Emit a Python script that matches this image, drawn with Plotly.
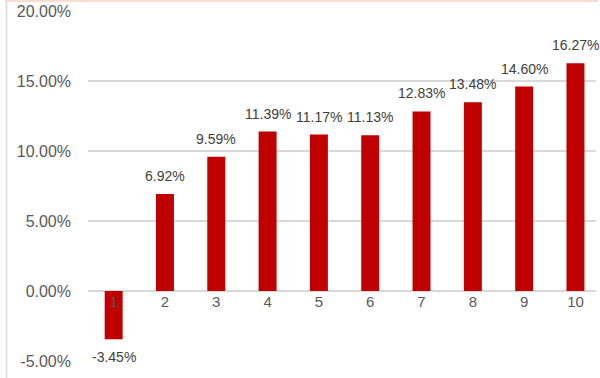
import plotly.graph_objects as go

categories = ["1", "2", "3", "4", "5", "6", "7", "8", "9", "10"]
values = [-3.45, 6.92, 9.59, 11.39, 11.17, 11.13, 12.83, 13.48, 14.60, 16.27]
labels = [f"{v:.2f}%" for v in values]
y_ticks = [-5, 0, 5, 10, 15, 20]
y_tick_labels = [f"{t:.2f}%" for t in y_ticks]

xs = list(range(1, 11))

fig = go.Figure()
fig.add_trace(go.Bar(
    x=xs, y=values,
    marker=dict(color="#c00000", line=dict(width=0)),
    width=0.35,
))

annotations = [
    dict(x=x, y=v, xref="x", yref="y", text=t, showarrow=False,
         yanchor="middle", yshift=18 if v >= 0 else -18,
         font=dict(family="Liberation Sans, Arial", size=14, color="#404040"))
    for x, v, t in zip(xs, values, labels)
]

fig.update_layout(
    width=600, height=378,
    margin=dict(l=88, r=4, t=11, b=17),
    paper_bgcolor="white", plot_bgcolor="white",
    showlegend=False,
    annotations=annotations,
    xaxis=dict(
        range=[0.5, 10.4],
        tickmode="array", tickvals=xs, ticktext=categories,
        showgrid=False, zeroline=False, showline=False,
        anchor="free", position=0.2,
        ticks="", ticklen=0,
        tickfont=dict(family="Liberation Sans, Arial", size=15, color="#595959"),
    ),
    yaxis=dict(
        range=[-5, 20],
        tickmode="array", tickvals=y_ticks, ticktext=y_tick_labels,
        showgrid=True, gridcolor="#d9d9d9", gridwidth=1.5,
        zeroline=True, zerolinecolor="#d9d9d9", zerolinewidth=1.5,
        showline=False, ticks="", ticklabelstandoff=16,
        tickfont=dict(family="Liberation Sans, Arial", size=16, color="#595959"),
    ),
    shapes=[
        dict(type="line", xref="paper", yref="paper", x0=-88/508 + 6.5/508, x1=-88/508 + 6.5/508,
             y0=-17/350, y1=1 + 11/350, line=dict(color="#d9d9d9", width=1.5)),
        dict(type="line", xref="paper", yref="paper", x0=-88/508 + 5/508, x1=1 + 2/508,
             y0=1 + 10/350, y1=1 + 10/350, line=dict(color="#f6d3c2", width=1.5)),
    ],
)

fig.write_html("out.html")
